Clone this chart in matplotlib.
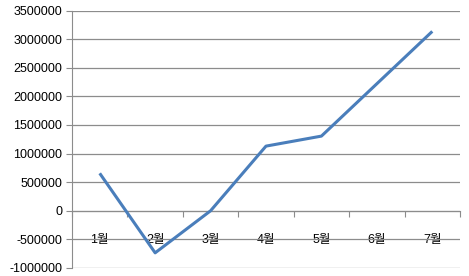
import matplotlib
matplotlib.use("Agg")
import matplotlib.pyplot as plt
import numpy as np

# 데이터
months = ['1월', '2월', '3월', '4월', '5월', '6월', '7월']
values = [655000, -735000, 0, 1130000, 1305000, 2220000, 3135000]
y_ticks = [-1000000, -500000, 0, 500000, 1000000, 1500000, 2000000, 2500000, 3000000, 3500000]

plt.rcParams['font.family'] = ['Liberation Sans', 'Noto Sans CJK KR', 'DejaVu Sans']

fig = plt.figure(figsize=(4.69, 2.76), dpi=100)
ax = fig.add_axes([72 / 469, 8 / 276, 388 / 469, 257.5 / 276])

x = np.arange(len(months))
ax.plot(x, values, color='#4a7ebb', linewidth=2.2, solid_capstyle='butt', zorder=3)

ax.set_xlim(-0.5, len(months) - 0.5)
ax.set_ylim(y_ticks[0], y_ticks[-1])
ax.set_yticks(y_ticks)
ax.set_yticklabels([str(v) for v in y_ticks], fontsize=9)
ax.yaxis.grid(True, color='#8c8c8c', linewidth=0.9)
ax.set_axisbelow(True)

# x축은 0에서 교차
ax.spines['bottom'].set_position(('data', 0))
ax.spines['bottom'].set_color('#8c8c8c')
ax.spines['left'].set_color('#8c8c8c')
ax.spines['top'].set_visible(False)
ax.spines['right'].set_visible(False)

ax.set_xticks(np.arange(-0.5, len(months), 1.0))
ax.set_xticklabels([])
ax.set_xticks(x, minor=True)
ax.set_xticklabels(months, minor=True, fontsize=9)
ax.tick_params(axis='x', which='major', direction='out', length=4, color='#8c8c8c')
ax.tick_params(axis='x', which='minor', length=0, pad=16.5)
ax.tick_params(axis='y', direction='out', length=4, color='#8c8c8c', pad=3)

fig.savefig('out.png', dpi=100)
